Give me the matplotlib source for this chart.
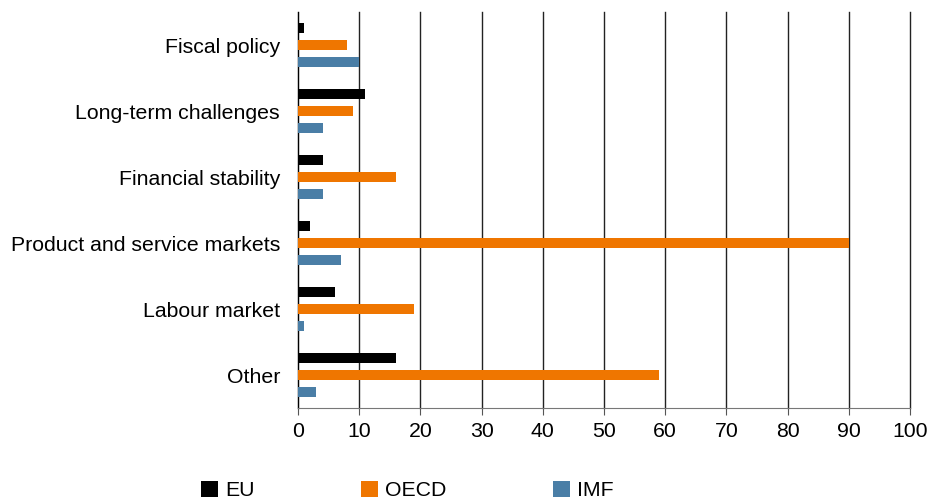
import numpy as np
import matplotlib.pyplot as plt
from matplotlib.patches import Patch

plt.rcParams['font.family'] = ['Liberation Sans', 'DejaVu Sans']

categories = ['Fiscal policy', 'Long-term challenges', 'Financial stability',
              'Product and service markets', 'Labour market', 'Other']
eu = [1, 11, 4, 2, 6, 16]
oecd = [8, 9, 16, 90, 19, 59]
imf = [10, 4, 4, 7, 1, 3]
series_names = ['EU', 'OECD', 'IMF']
colors = ['#000000', '#ef7600', '#4a7ea6']

fig = plt.figure(figsize=(9.29, 5.01), dpi=100)
ax = fig.add_axes([0.3208, 0.1856, 0.6587, 0.7904])

y = np.arange(len(categories))
h = 0.15
off = 0.26
for vals, dy, c in zip([eu, oecd, imf], [-off, 0, off], colors):
    ax.barh(y + dy, vals, height=h, color=c, zorder=3)

ax.set_xlim(0, 100)
ax.set_ylim(len(categories) - 0.5, -0.5)
ax.set_yticks(y)
ax.set_yticklabels(categories, fontsize=15.3)
ax.set_xticks(np.arange(0, 101, 10))
ax.tick_params(axis='x', labelsize=15.3, length=5, color='#555555',
               direction='out', pad=5)
ax.tick_params(axis='y', length=0, pad=13)
ax.grid(axis='x', color='#222222', linewidth=1, zorder=0)
for gl in ax.get_xgridlines():
    gl.set_clip_on(False)
for s in ['top', 'right']:
    ax.spines[s].set_visible(False)
ax.spines['left'].set_color('#000000')
ax.spines['bottom'].set_color('#777777')

handles = [Patch(facecolor=c, edgecolor='none') for c in colors]
fig.legend(handles, series_names, loc='upper left', bbox_to_anchor=(0.216, 0.04),
           ncol=3, frameon=False, fontsize=15.3, handlelength=0.8, handleheight=0.8,
           handletextpad=0.35, columnspacing=5.0, borderaxespad=0, borderpad=0)

fig.savefig('out.png', dpi=100)
